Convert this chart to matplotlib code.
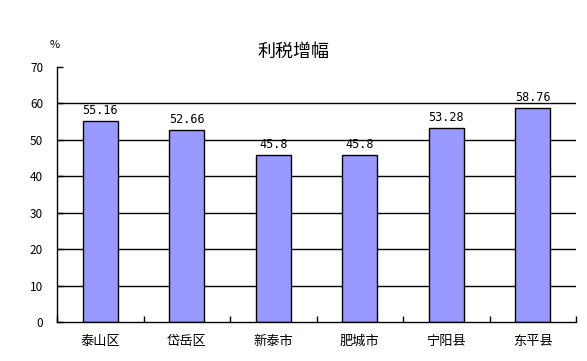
import matplotlib
matplotlib.use("Agg")
import matplotlib.pyplot as plt

plt.rcParams['font.family'] = ['Noto Sans CJK SC', 'DejaVu Sans']

categories = ["泰山区", "岱岳区", "新泰市", "肥城市", "宁阳县", "东平县"]
values = [55.16, 52.66, 45.8, 45.8, 53.28, 58.76]
labels = ["55.16", "52.66", "45.8", "45.8", "53.28", "58.76"]
yticks = [0, 10, 20, 30, 40, 50, 60, 70]

fig = plt.figure(figsize=(5.87, 3.61), dpi=100)
ax = fig.add_axes([57/587, 1-322/361, (576-57)/587, (322-67)/361])

x = list(range(len(categories)))
for yv in yticks[1:-1]:
    ax.axhline(yv, color='black', lw=1.0, zorder=1)
ax.bar(x, values, width=0.40, color='#9999FF', edgecolor='black', linewidth=1.0, zorder=2)
for xi, v, lab in zip(x, values, labels):
    ax.text(xi, v + 1.2, lab, ha='center', va='bottom', fontsize=8.5, family='DejaVu Sans Mono')

ax.set_xlim(-0.5, len(categories) - 0.5)
ax.set_ylim(0, 70)
ax.set_yticks(yticks)
ax.set_yticklabels([str(t) for t in yticks], fontsize=8.5)
ax.set_xticks(x)
ax.set_xticklabels(categories, fontsize=9.5)
ax.set_xticks([i + 0.5 for i in range(-1, len(categories))], minor=True)
ax.tick_params(axis='x', which='major', length=0, pad=9)
ax.tick_params(axis='x', which='minor', direction='in', length=4, width=1)
ax.tick_params(axis='y', direction='in', length=4, width=1, pad=10)
ax.spines['top'].set_visible(False)
ax.spines['right'].set_visible(False)
ax.spines['left'].set_linewidth(1.0)
ax.spines['bottom'].set_linewidth(1.0)

fig.text(293/587, 1-52/361, "利税增幅", ha='center', va='center', fontsize=13)
fig.text(55/587, 1-45/361, "%", ha='center', va='center', fontsize=8)

fig.savefig("out.png", dpi=100)
